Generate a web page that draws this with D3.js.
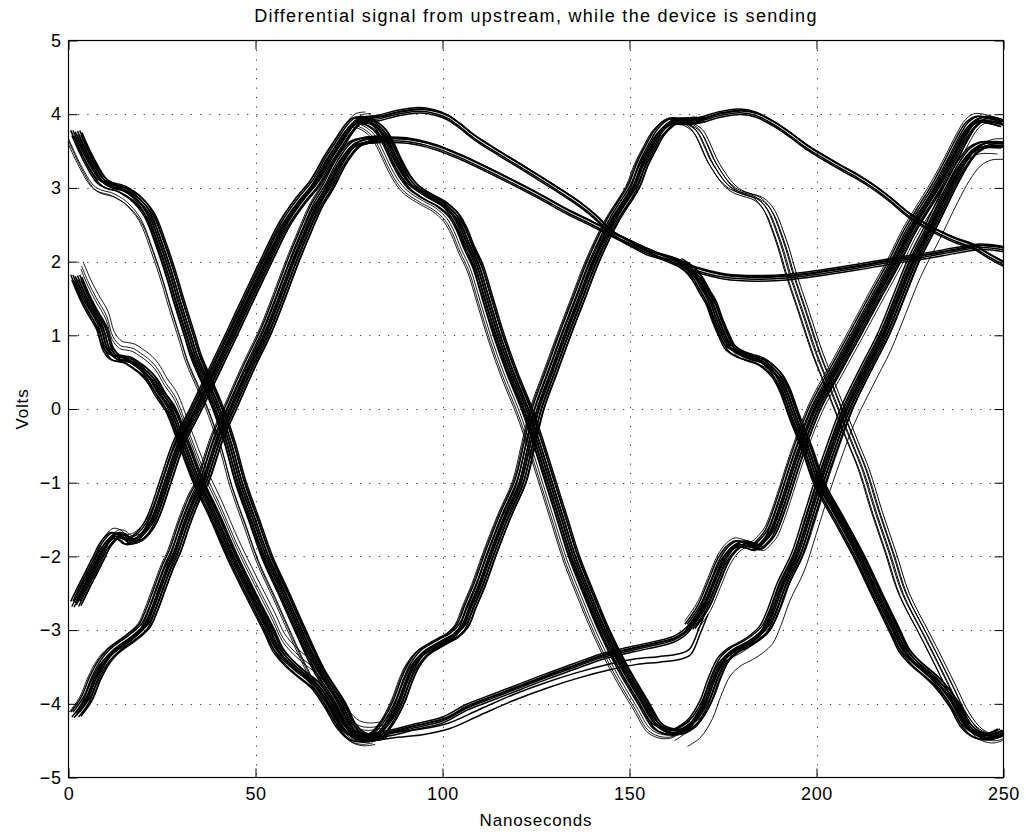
<!DOCTYPE html>
<html>
<head>
<meta charset="utf-8">
<script src="https://cdn.jsdelivr.net/npm/d3@7"></script>
<style>
  body { margin: 0; background: #fff; }
  text { font-family: "Liberation Sans", Arial, Helvetica, sans-serif; }
</style>
</head>
<body>
<script>
// axis ticks
var xTicks = [0, 50, 100, 150, 200, 250];
var yTicks = [-5, -4, -3, -2, -1, 0, 1, 2, 3, 4, 5];

// bundle centre lines, [ns, volts]
// first unit interval (0-85 ns)
var fallHigh0 = [[2.1,3.74],[5,3.42],[8.8,3.1],[11,3.03],[13.4,3.0],[15.5,2.95],[17.8,2.87],[21.4,2.65],[24.9,2.2],[27.5,1.8],[29.4,1.47],[32.3,1.0],[34,0.72],[37.4,0.32],[40,0],[43,-0.45],[46,-1.0],[49.5,-1.5],[53,-2.0],[57.5,-2.5],[61.9,-3.0],[67,-3.55],[72.6,-4.0],[75.5,-4.3],[78,-4.42],[81,-4.46],[84,-4.44]];
var fallMid0 = [[2.1,1.78],[4,1.55],[6,1.35],[8.8,1.1],[10.5,0.82],[12.5,0.7],[14.2,0.68],[16,0.66],[17.8,0.6],[20,0.52],[22.2,0.4],[24.5,0.2],[27.2,0],[31,-0.5],[34.8,-1.0],[39,-1.45],[43.7,-2.0],[48.5,-2.5],[53.5,-3.0],[56,-3.27],[59,-3.45],[62.4,-3.6],[66,-3.75],[69.5,-4.0],[73,-4.3],[76,-4.45],[79,-4.48],[83,-4.45]];
var riseMid0 = [[2.1,-2.65],[4,-2.45],[6,-2.25],[8,-2.05],[10,-1.85],[12.5,-1.72],[14.5,-1.74],[16,-1.8],[18,-1.78],[19.6,-1.72],[21.5,-1.6],[23.2,-1.42],[26,-1.0],[29.4,-0.5],[34.3,0],[39,0.5],[43.7,1.0],[48.3,1.5],[53,2.0],[57.9,2.5],[62.4,2.83],[66,3.05],[70,3.4],[73.1,3.64],[75.5,3.82],[77.5,3.91],[80,3.93]];
var riseLow0 = [[2.1,-4.15],[4.9,-3.95],[7.1,-3.68],[9.5,-3.45],[11.6,-3.32],[14,-3.22],[16,-3.15],[17.8,-3.08],[20.5,-2.95],[22.3,-2.75],[24.5,-2.45],[26.7,-2.15],[28.5,-1.95],[31.2,-1.55],[33.8,-1.22],[36,-1.0],[40,-0.4],[43.5,0],[48.3,0.55],[53,1.05],[56.5,1.5],[60.2,2.0],[63.3,2.38],[66.5,2.75],[69.5,3.0],[73.1,3.35],[76.7,3.58],[80.2,3.64],[84,3.66]];

// second unit interval (80-170 ns)
var topFast = [[77.5,3.91],[80,3.93],[83.4,3.95],[87.9,4.01],[94.1,4.05],[98,4.02],[101.3,3.96],[104.5,3.85],[108.4,3.69],[115.5,3.46],[122.6,3.24],[129.8,3.01],[136.9,2.77],[141,2.6],[145,2.4],[150,2.25],[155,2.12],[160,2.05],[163,2.0],[166,1.9],[168,1.78]];
var topSlow = [[80.2,3.64],[84,3.65],[90.6,3.64],[97.7,3.56],[104.8,3.42],[111.9,3.25],[119,3.07],[126.2,2.88],[133.3,2.68],[140.5,2.5],[145,2.38],[150,2.26],[154.7,2.15],[161.8,2.0],[167.2,1.9],[175.2,1.8],[184,1.77],[193,1.79],[201.9,1.85],[210.8,1.92],[219.8,2.0],[228.7,2.07],[237.6,2.15],[243.9,2.2],[250,2.17]];
var fallHigh1 = [[77.5,3.91],[80,3.9],[83.4,3.78],[85.5,3.6],[87.5,3.38],[90,3.15],[92.3,3.01],[94.5,2.93],[96.8,2.86],[100,2.77],[103,2.63],[105,2.45],[107,2.2],[109.3,1.95],[112,1.5],[115,1.0],[118.5,0.5],[122.5,0],[125.5,-0.45],[128.9,-1.0],[132,-1.5],[135.1,-2.0],[139,-2.5],[143.1,-3.0],[148,-3.5],[153.8,-4.0],[157.5,-4.3],[161,-4.38],[164,-4.37],[167,-4.27]];
var riseLow1 = [[79,-4.47],[82,-4.45],[85,-4.3],[88.3,-4.0],[90.5,-3.7],[92.3,-3.5],[95,-3.32],[97.7,-3.23],[100.5,-3.15],[103,-3.08],[105.5,-2.95],[107.5,-2.7],[110,-2.4],[112.8,-2.0],[117,-1.45],[120.9,-1.0],[123.3,-0.5],[125.7,0],[129.3,0.5],[132.9,1.0],[136.7,1.5],[140.5,2.0],[145.8,2.56],[151.2,3.0],[153.5,3.3],[156,3.55],[158.3,3.75],[161.8,3.9],[165,3.9],[169,3.92]];
var lowFlatA = [[80,-4.45],[86,-4.4],[92.3,-4.32],[100.3,-4.22],[106.6,-4.05],[113.7,-3.91],[120.9,-3.77],[128,-3.63],[135.1,-3.5],[142.2,-3.37],[147.6,-3.3],[154.7,-3.22],[161.8,-3.13],[164.5,-3.05],[166.3,-2.96],[169.9,-2.69]];
var lowFlatB = [[80,-4.48],[88,-4.42],[95,-4.38],[102,-4.3],[110,-4.12],[119,-3.92],[128,-3.75],[136,-3.62],[145,-3.5],[152,-3.43],[158,-3.4],[163.6,-3.36],[166.3,-3.3],[169,-3.0],[171,-2.75]];

// third unit interval (165-250 ns)
var topPeak2 = [[161.8,3.9],[166,3.9],[170,3.93],[174,3.99],[179.7,4.03],[184,3.99],[188.6,3.87],[193,3.72],[197.5,3.55],[202,3.41],[206.4,3.28],[211,3.15],[215.3,3.01],[220,2.83],[224.2,2.65],[228.7,2.5],[233.2,2.38],[237.6,2.28],[242.1,2.2],[246,2.08],[250,1.97]];
var fallMid2 = [[163,2.0],[166,1.9],[168,1.78],[170,1.6],[171.7,1.45],[173.5,1.2],[175.2,1.0],[177,0.83],[179.7,0.74],[182,0.7],[184.1,0.67],[186,0.62],[187.7,0.55],[189.5,0.45],[191.3,0.28],[194,-0.1],[197.5,-0.55],[200.6,-1.0],[206,-1.5],[211.3,-2.0],[216,-2.5],[220.8,-3.0],[223.5,-3.28],[226.5,-3.45],[229.5,-3.58],[232.5,-3.72],[236.7,-4.0],[240,-4.3],[243,-4.42],[246.5,-4.45],[250,-4.38]];
var fallHigh2 = [[161.8,3.92],[165,3.88],[168,3.78],[170,3.6],[171.7,3.4],[173.4,3.25],[176.1,3.06],[178.5,2.96],[180.5,2.92],[184.1,2.86],[186,2.78],[187.7,2.65],[189.5,2.42],[191.3,2.15],[193,1.85],[196.6,1.3],[200.2,0.75],[203.7,0.3],[207.3,-0.16],[210,-0.5],[212.6,-0.83],[216.2,-1.42],[219.8,-1.96],[223.3,-2.51],[228.7,-3.05],[232.3,-3.41],[235.8,-3.77],[239.4,-4.14],[243,-4.36],[246.5,-4.43],[250,-4.38]];
var riseMid2 = [[166.3,-2.96],[169.9,-2.69],[172.5,-2.38],[175.2,-2.06],[177.5,-1.9],[179.7,-1.83],[182,-1.85],[184.1,-1.88],[186,-1.8],[187.7,-1.69],[189.5,-1.47],[191.3,-1.2],[194.8,-0.65],[199.7,0],[205,0.5],[210.4,1.0],[215.7,1.5],[221.1,2.0],[224.5,2.35],[228,2.65],[232.3,3.0],[236,3.35],[239,3.65],[241.5,3.85],[244,3.93],[250,3.87]];
var riseLow2 = [[163.6,-4.38],[167.2,-4.25],[170.3,-4.0],[172.5,-3.7],[175.2,-3.41],[178,-3.28],[181,-3.2],[184,-3.1],[186.4,-2.98],[188.5,-2.75],[191,-2.4],[194.8,-2.0],[198,-1.5],[201.1,-1.0],[204.5,-0.5],[208.2,0],[213,0.5],[218,1.0],[222,1.5],[226,2.0],[231,2.5],[235.8,3.0],[239,3.3],[242,3.5],[245,3.58],[250,3.58]];

// per-trace offsets [ns, volts] that give each bundle its width
var coreJitter = [[-1.5,0.04],[-1.2,-0.03],[-0.9,0.04],[-0.6,-0.04],[-0.3,0.02],[0,-0.01],[0.3,0.03],[0.6,-0.03],[0.9,0.04],[1.2,-0.02],[1.5,0.01]];
var thinJitter = [[-0.3,0.04],[0,-0.035],[0.3,0.015],[-0.1,-0.01],[0.2,0.025]];
var looseJitter = [[-1.5,0.02],[-1.0,-0.02],[-0.5,0.02],[0,-0.01],[0.5,0.02],[1.0,-0.02],[1.5,0.01]];

// stray traces that sit apart from their bundle
var strayFallHigh0 = [[-2.2,-0.06],[-2.6,-0.09],[-2.0,-0.11]];
var strayFallMid0 = [[1.4,0.16],[1.8,0.22],[1.2,0.12]];
var strayRiseMid0 = [[-0.6,0.1],[0.9,0.08]];
var strayRiseLow0 = [[-1.9,0.04]];
var strayFallHigh1 = [[-1.9,-0.04],[-2.3,-0.07],[-2.6,-0.09]];
var strayRiseLow1 = [[-1.8,0.04],[-2.2,0.02]];
var strayFallMid2 = [[1.2,-0.08],[1.7,-0.05]];
var strayRiseMid2 = [[-1.6,0.08],[1.8,-0.04]];
var strayRiseLow2 = [[-1.6,-0.12],[1.9,-0.2],[2.2,0.08]];

var bundles = [
  {pts: fallHigh0, jit: coreJitter, stray: strayFallHigh0},
  {pts: fallMid0, jit: coreJitter, stray: strayFallMid0},
  {pts: riseMid0, jit: coreJitter, stray: strayRiseMid0},
  {pts: riseLow0, jit: coreJitter, stray: strayRiseLow0},
  {pts: topFast, jit: thinJitter, stray: []},
  {pts: topSlow, jit: thinJitter, stray: []},
  {pts: fallHigh1, jit: coreJitter, stray: strayFallHigh1},
  {pts: riseLow1, jit: coreJitter, stray: strayRiseLow1},
  {pts: lowFlatA, jit: thinJitter, stray: []},
  {pts: lowFlatB, jit: thinJitter.slice(0, 2), stray: []},
  {pts: topPeak2, jit: thinJitter, stray: []},
  {pts: fallMid2, jit: coreJitter, stray: strayFallMid2},
  {pts: fallHigh2, jit: looseJitter, stray: []},
  {pts: riseMid2, jit: coreJitter, stray: strayRiseMid2},
  {pts: riseLow2, jit: coreJitter, stray: strayRiseLow2}
];

var width = 1026,
    height = 832;

var svg = d3.select("body")
  .append("svg")
  .attr("width", width)
  .attr("height", height);

var x = d3.scaleLinear().domain([0, 250]).range([68.5, 1003.5]);
var y = d3.scaleLinear().domain([-5, 5]).range([777.5, 40.5]);

svg.append("rect")
  .attr("width", width).attr("height", height)
  .attr("fill", "#fff");

// dotted grid
var grid = svg.append("g")
  .attr("stroke", "#333")
  .attr("stroke-width", 1)
  .attr("stroke-dasharray", "1.2,8.2");

grid.selectAll(".gx")
  .data(xTicks.slice(1, -1))
  .enter().append("line")
  .attr("x1", function(d) { return Math.round(x(d)) + 0.5; })
  .attr("x2", function(d) { return Math.round(x(d)) + 0.5; })
  .attr("y1", y(5))
  .attr("y2", y(-5));

grid.selectAll(".gy")
  .data(yTicks.slice(1, -1))
  .enter().append("line")
  .attr("y1", function(d) { return Math.round(y(d)) + 0.5; })
  .attr("y2", function(d) { return Math.round(y(d)) + 0.5; })
  .attr("x1", x(0))
  .attr("x2", x(250));

// traces
svg.append("clipPath").attr("id", "plotclip")
  .append("rect")
  .attr("x", x(0)).attr("y", y(5))
  .attr("width", x(250) - x(0)).attr("height", y(-5) - y(5));

var line = d3.line()
  .x(function(d) { return x(d[0]); })
  .y(function(d) { return y(d[1]); })
  .curve(d3.curveCatmullRom.alpha(0.5));

var traces = svg.append("g")
  .attr("clip-path", "url(#plotclip)")
  .attr("fill", "none")
  .attr("stroke", "#000")
  .attr("stroke-linejoin", "round");

bundles.forEach(function(b) {
  var w = b.jit === looseJitter ? 1.0 : 1.5;
  b.jit.concat(b.stray).forEach(function(j, i) {
    var shifted = b.pts.map(function(p) { return [p[0] + j[0], p[1] + j[1]]; });
    traces.append("path")
      .attr("d", line(shifted))
      .attr("stroke-width", i < b.jit.length ? w : 0.9);
  });
});

// axes, ticks inside on all four sides
function styleAxis(g) {
  g.select(".domain").remove();
  g.selectAll(".tick line").attr("stroke", "#000");
  g.selectAll("text")
    .attr("fill", "#000")
    .style("font-size", "18px")
    .style("letter-spacing", "0.6px")
    .style("font-family", "'Liberation Sans', Arial, Helvetica, sans-serif");
}

svg.append("g")
  .attr("transform", "translate(0," + y(-5) + ")")
  .call(d3.axisBottom(x).tickValues(xTicks).tickSizeInner(-9).tickSizeOuter(0).tickPadding(10))
  .call(styleAxis);

svg.append("g")
  .attr("transform", "translate(0," + y(5) + ")")
  .call(d3.axisTop(x).tickValues(xTicks).tickSizeInner(-9).tickSizeOuter(0).tickFormat(""))
  .call(styleAxis);

svg.append("g")
  .attr("transform", "translate(" + x(0) + ",0)")
  .call(d3.axisLeft(y).tickValues(yTicks).tickSizeInner(-9).tickSizeOuter(0).tickPadding(7))
  .call(styleAxis);

svg.append("g")
  .attr("transform", "translate(" + x(250) + ",0)")
  .call(d3.axisRight(y).tickValues(yTicks).tickSizeInner(-9).tickSizeOuter(0).tickFormat(""))
  .call(styleAxis);

svg.append("rect")
  .attr("x", x(0)).attr("y", y(5))
  .attr("width", x(250) - x(0)).attr("height", y(-5) - y(5))
  .attr("fill", "none")
  .attr("stroke", "#000")
  .attr("stroke-width", 1.2);

// labels
svg.append("text")
  .attr("x", (x(0) + x(250)) / 2)
  .attr("y", 22)
  .attr("text-anchor", "middle")
  .style("font-size", "18px")
  .style("letter-spacing", "1.3px")
  .text("Differential signal from upstream, while the device is sending");

svg.append("text")
  .attr("x", (x(0) + x(250)) / 2)
  .attr("y", 826)
  .attr("text-anchor", "middle")
  .style("font-size", "17px")
  .style("letter-spacing", "0.8px")
  .text("Nanoseconds");

svg.append("text")
  .attr("transform", "translate(28," + y(0) + ") rotate(-90)")
  .attr("text-anchor", "middle")
  .style("font-size", "17px")
  .style("letter-spacing", "0.8px")
  .text("Volts");
</script>
</body>
</html>
